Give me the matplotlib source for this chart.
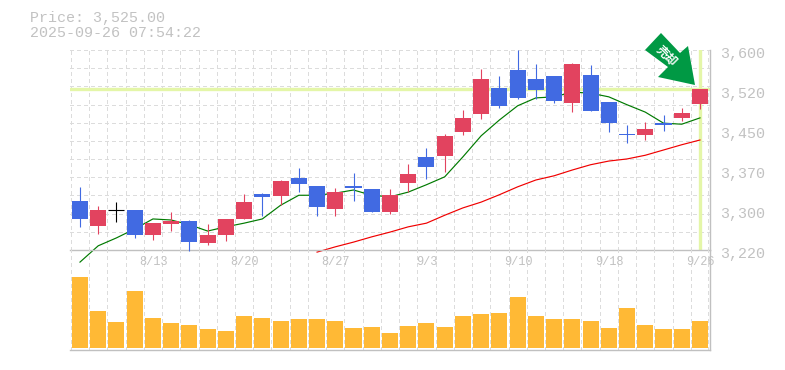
import numpy as np
import matplotlib
matplotlib.use('Agg')
import matplotlib.pyplot as plt
from matplotlib.patches import Polygon
from matplotlib.transforms import ScaledTranslation

W, H = 785, 370

opens = [3313, 3266, 3296, 3296, 3248, 3269, 3275, 3233, 3248, 3279, 3326, 3323, 3357, 3342, 3298, 3342, 3336, 3292,
         3347, 3397, 3399, 3444, 3478, 3528, 3562, 3545, 3551, 3499, 3552, 3501, 3441, 3438, 3461, 3471, 3497]
closes = [3279, 3296, 3296, 3248, 3271, 3275, 3235, 3248, 3279, 3311, 3321, 3351, 3345, 3302, 3330, 3338, 3292, 3324,
          3364, 3378, 3437, 3471, 3545, 3494, 3509, 3524, 3503, 3573, 3484, 3461, 3439, 3450, 3457, 3480, 3525]
highs = [3340, 3304, 3311, 3296, 3271, 3292, 3277, 3269, 3279, 3326, 3328, 3353, 3376, 3342, 3338, 3366, 3336, 3336,
         3383, 3414, 3440, 3486, 3564, 3551, 3600, 3573, 3551, 3575, 3571, 3501, 3457, 3463, 3476, 3490, 3525]
lows = [3264, 3250, 3273, 3243, 3239, 3256, 3218, 3230, 3237, 3279, 3285, 3305, 3330, 3285, 3285, 3313, 3292, 3288,
        3330, 3355, 3368, 3438, 3469, 3490, 3507, 3507, 3499, 3482, 3484, 3444, 3423, 3429, 3446, 3465, 3488]
ma_short = [3197, 3228, 3243, 3260, 3279, 3277, 3268, 3256, 3264, 3271, 3279, 3305, 3324, 3324, 3328, 3334, 3324, 3321,
            3330, 3344, 3359, 3397, 3437, 3467, 3494, 3509, 3511, 3520, 3518, 3511, 3496, 3482, 3461, 3459, 3471]
ma_long = [np.nan] * 13 + [3216, 3226, 3235, 3245, 3254, 3264, 3271, 3286, 3300, 3311, 3325, 3340, 3353, 3361, 3372,
                           3382, 3389, 3393, 3400, 3410, 3420, 3429]
volumes = [71, 37, 26, 57, 30, 25, 23, 19, 17, 32, 30, 27, 29, 29, 27, 20, 21, 15,
           22, 25, 21, 32, 34, 35, 51, 32, 29, 29, 27, 20, 40, 23, 19, 19, 27]

date_pos = [4, 9, 14, 19, 24, 29, 34]
date_labels = ['8/13', '8/20', '8/27', '9/3', '9/10', '9/18', '9/26']
price_ticks = [3220, 3296, 3372, 3448, 3524, 3600]
price_labels = ['3,220', '3,300', '3,370', '3,450', '3,520', '3,600']
last_price = 3525

UP = '#e2435f'
DOWN = '#416ae2'
TXT = '#c2c2c2'
GRID = '#dcdcdc'
AXIS = '#c0c0c0'
MONO = 'Liberation Mono'

fig = plt.figure(figsize=(W / 100, H / 100), dpi=100)


def box(x0, y0, x1, y1):
    return [x0 / W, 1 - y1 / H, (x1 - x0) / W, (y1 - y0) / H]


ax = fig.add_axes(box(70, 50, 710, 250))
vol = fig.add_axes(box(70, 250, 710, 350), sharex=ax)
ax.patch.set_alpha(0)
vol.patch.set_alpha(0)

xs = np.arange(len(opens))
ax.set_xlim(-0.548, 34.55)
ax.set_ylim(3220, 3600)
vol.set_ylim(-2, 98)

# grid
grid_x = np.append(xs - 0.5, 34.45)
for g in grid_x:
    ax.axvline(g, color=GRID, lw=0.9, ls=(0, (3, 3)), zorder=0, antialiased=False)
    vol.axvline(g, color=GRID, lw=0.9, ls=(0, (3, 3)), zorder=0, antialiased=False)
for g in np.linspace(3220, 3600, 12)[1:]:
    ax.axhline(g, color=GRID, lw=0.9, ls=(0, (3, 3)), zorder=0, antialiased=False)

# current price cross lines
ax.axhline(last_price, color='#e4f6a8', lw=2.4, zorder=1)
ax.axvline(34, color='#e4f6a8', lw=2.4, zorder=1)

for i in xs:
    o, c = opens[i], closes[i]
    if c > o:
        col = UP
    elif c < o:
        col = DOWN
    else:
        col = 'black'
    ax.plot([i, i], [lows[i], highs[i]], color=col, lw=0.8, zorder=3, solid_capstyle='butt', clip_on=False)
    if c == o:
        ax.plot([i - 0.44, i + 0.44], [c, c], color=col, lw=0.8, zorder=3, solid_capstyle='butt')
    else:
        ax.bar(i, abs(c - o), bottom=min(o, c), width=0.88, color=col, zorder=3)

ax.plot(xs, ma_short, color='#007a00', lw=0.85, zorder=2, clip_on=False)
ax.plot(xs, ma_long, color='#f00000', lw=0.85, zorder=2, clip_on=False)

vol.bar(xs, volumes, width=0.88, color='#ffb935', zorder=3)

for a in (ax, vol):
    a.spines['left'].set_visible(False)
    a.spines['top'].set_visible(False)
    a.spines['right'].set_color(AXIS)
    a.spines['right'].set_linewidth(1.0)
    a.spines['bottom'].set_color(AXIS)
    a.spines['bottom'].set_linewidth(1.0)
    a.tick_params(which='both', length=0)

ax.yaxis.tick_right()
ax.set_yticks(price_ticks)
ax.set_yticklabels(price_labels, family=MONO, fontsize=10.8, color=TXT)
ax.tick_params(axis='y', pad=7)
shift = ScaledTranslation(0, -2.5 / 100, fig.dpi_scale_trans)
for lab in ax.get_yticklabels():
    lab.set_transform(lab.get_transform() + shift)
plt.setp(ax.get_xticklabels(), visible=False)
vol.set_yticks([])
vol.set_xticks(date_pos)
vol.set_xticklabels([])
for p, s in zip(date_pos, date_labels):
    vol.annotate(s, xy=(p, 1), xycoords=vol.get_xaxis_transform(), xytext=(0.5, -12), textcoords='offset pixels',
                 ha='center', va='center', family=MONO, fontsize=8.6, color=TXT, zorder=1)

fig.text(30 / W, 1 - 18 / H, 'Price: 3,525.00', family=MONO, fontsize=10.8, color=TXT, va='center')
fig.text(30 / W, 1 - 33 / H, '2025-09-26 07:54:22', family=MONO, fontsize=10.8, color=TXT, va='center')

# sell badge
pts = [(645, 50), (661, 33), (680, 53), (688, 46), (695, 85), (658, 77), (668, 67)]
fig.add_artist(Polygon([(x / W, 1 - y / H) for x, y in pts], closed=True, transform=fig.transFigure,
                       facecolor='#009944', edgecolor='none', zorder=5))
fig.text(666 / W, 1 - 56 / H, '売却', family='Noto Sans CJK JP', fontsize=8.5, color='white', rotation=-45,
         ha='center', va='center', fontweight='bold', zorder=6)

fig.savefig('out.png', dpi=100)
